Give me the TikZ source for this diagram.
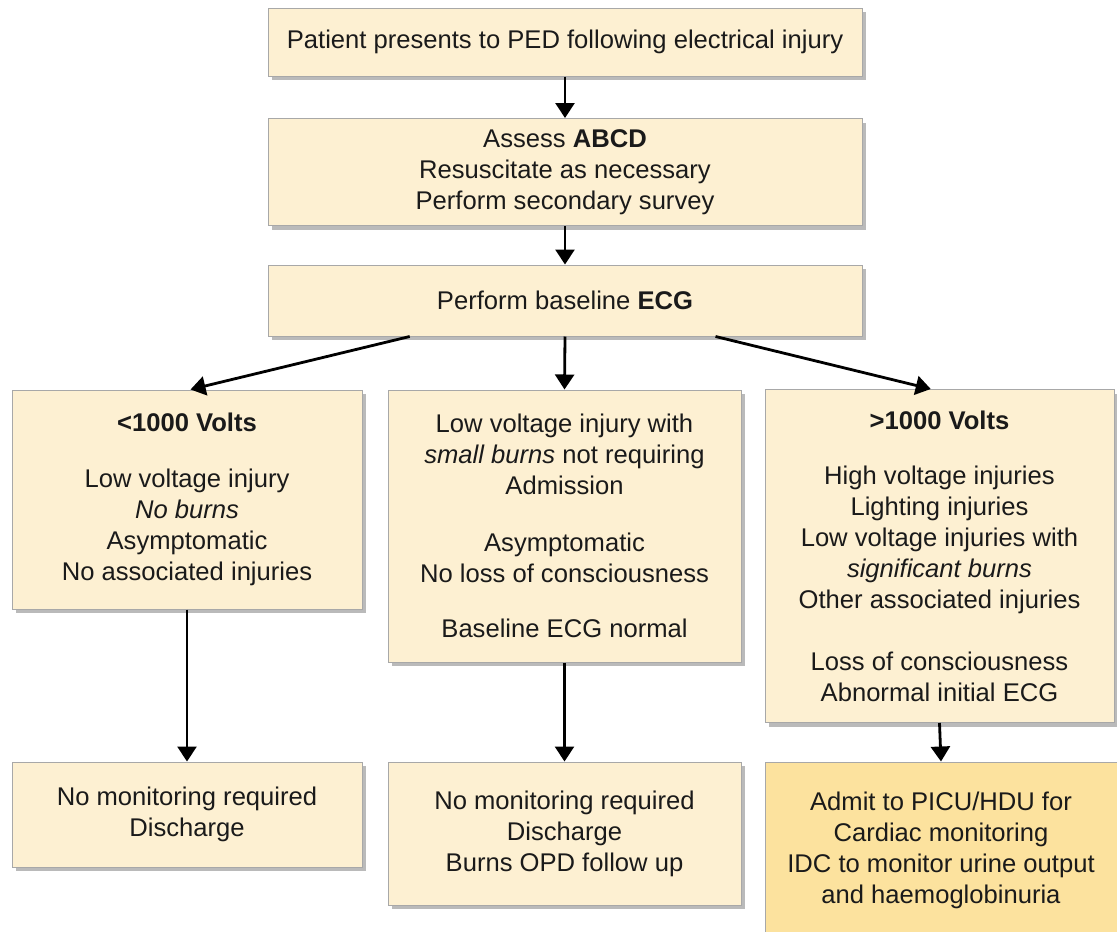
\documentclass[tikz,border=0pt]{standalone}
\usepackage{fontspec}
\setmainfont{Liberation Sans}
\usetikzlibrary{shadows,arrows.meta,calc}
\definecolor{boxfill}{HTML}{FDF0D2}
\definecolor{boxfilldark}{HTML}{FCE29E}
\definecolor{boxline}{HTML}{A8A8A8}
\definecolor{txt}{HTML}{1A1A1A}
\tikzset{
  box/.style={draw=boxline, line width=1pt, fill=boxfill, align=center, inner sep=0pt,
    text=txt, font=\fontsize{25.6}{31}\selectfont,
    drop shadow={shadow xshift=4pt, shadow yshift=-4pt, opacity=0.45, fill=black!60}},
  darkbox/.style={box, fill=boxfilldark},
  arr/.style={line width=2.8pt, -{Triangle[length=15pt,width=19pt]}, black}
}
\begin{document}
\begin{tikzpicture}[x=1pt,y=-1pt]
\useasboundingbox (0,0) rectangle (1117,932);
\node[box, minimum width=594pt, minimum height=68pt] (n1) at (565,42) {Patient presents to PED following electrical injury};
\node[box, minimum width=594pt, minimum height=107pt] (n2) at (565,172) {Assess \textbf{ABCD}\\Resuscitate as necessary\\Perform secondary survey};
\node[box, minimum width=594pt, minimum height=71pt] (n3) at (565,300.5) {Perform baseline \textbf{ECG}};
\node[box, minimum width=350pt, minimum height=219pt] (l1) at (187,499.5) {\textbf{<1000 Volts}\\[25pt]Low voltage injury\\\textit{No burns}\\Asymptomatic\\No associated injuries};
\node[box, minimum width=353pt, minimum height=272pt] (m1) at (564.5,526) {Low voltage injury with\\\textit{small burns} not requiring\\Admission\\[26pt]Asymptomatic\\No loss of consciousness\\[24pt]Baseline ECG normal};
\node[box, minimum width=349pt, minimum height=333pt] (r1) at (939.5,556) {\textbf{>1000 Volts}\\[24pt]High voltage injuries\\Lighting injuries\\Low voltage injuries with\\\textit{significant burns}\\Other associated injuries\\[31pt]Loss of consciousness\\Abnormal initial ECG};
\node[box, minimum width=350pt, minimum height=105pt] (l2) at (187,814.5) {No monitoring required\\Discharge};
\node[box, minimum width=353pt, minimum height=143pt] (m2) at (564.5,833.5) {No monitoring required\\Discharge\\Burns OPD follow up};
\node[darkbox, minimum width=352pt, minimum height=176pt] (r2) at (941,850) {Admit to PICU/HDU for\\Cardiac monitoring\\IDC to monitor urine output\\and haemoglobinuria};
\draw[arr] (n1.south) -- (n2.north);
\draw[arr] (n2.south) -- (n3.north);
\draw[arr] (n3.south) -- (m1.north);
\draw[arr] ($(n3.south west)!0.239!(n3.south east)$) -- ($(l1.north west)!0.51!(l1.north east)$);
\draw[arr] ($(n3.south west)!0.753!(n3.south east)$) -- ($(r1.north west)!0.475!(r1.north east)$);
\draw[arr] (l1.south) -- (l2.north);
\draw[arr] (m1.south) -- (m2.north);
\draw[arr] (r1.south) -- (r2.north);
\end{tikzpicture}
\end{document}
